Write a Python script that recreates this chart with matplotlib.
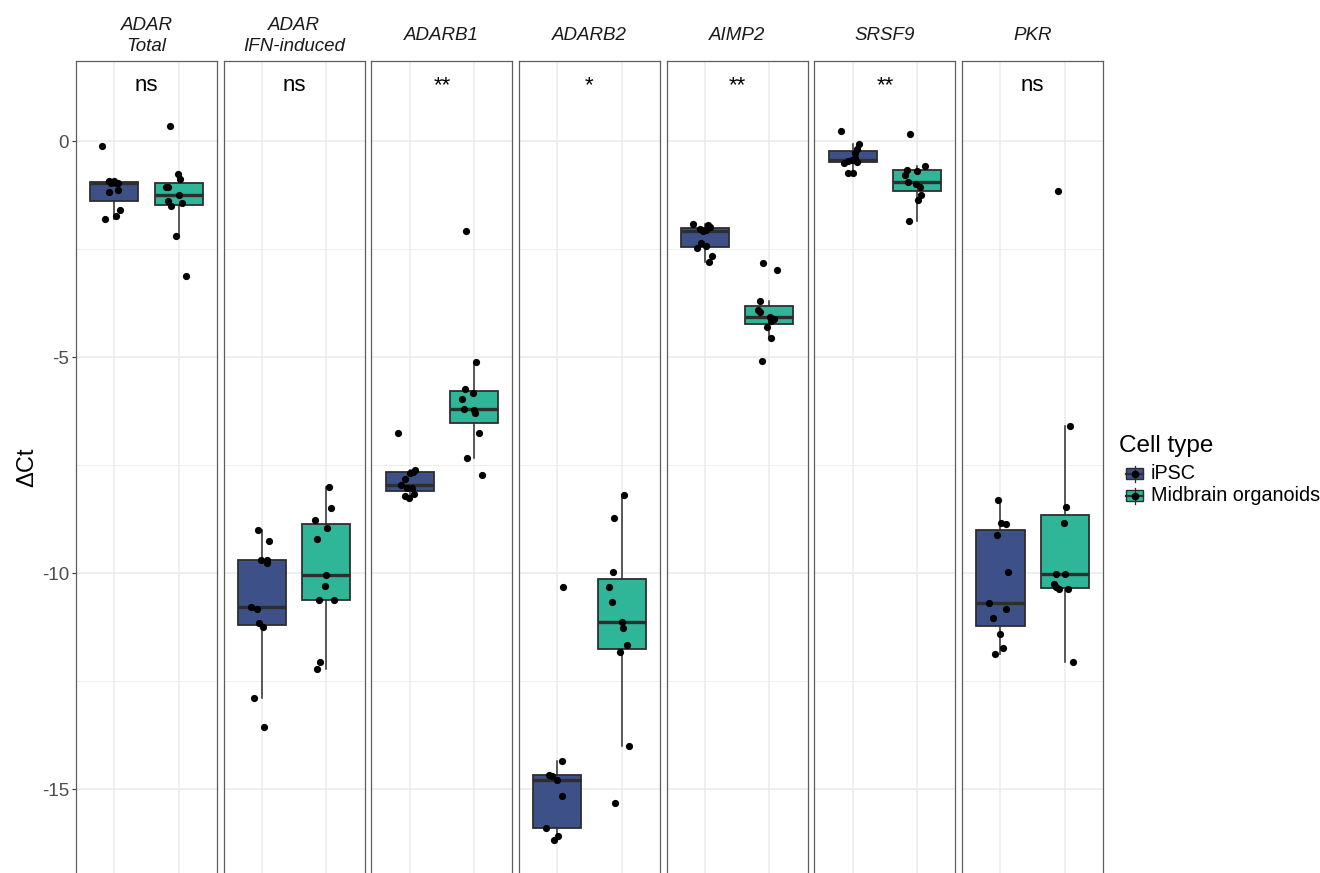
import matplotlib
matplotlib.use("Agg")
import matplotlib.pyplot as plt
from matplotlib.patches import Rectangle
from matplotlib.lines import Line2D

plt.rcParams["font.family"] = ["Liberation Sans", "DejaVu Sans"]

# ---- data -------------------------------------------------------------
genes = ["ADAR\nTotal", "ADAR\nIFN-induced", "ADARB1", "ADARB2", "AIMP2", "SRSF9", "PKR"]
signif = ["ns", "ns", "**", "*", "**", "**", "ns"]
cell_types = ["iPSC", "Midbrain organoids"]

ipsc_dct = [
    [-0.11, -0.93, -0.96, -0.93, -0.98, -0.96, -1.19, -1.13, -1.59, -1.74, -1.81],
    [-9.01, -9.25, -9.70, -9.70, -9.76, -10.79, -10.83, -11.15, -11.24, -12.89, -13.55],
    [-6.75, -7.62, -7.69, -7.65, -7.82, -7.96, -8.02, -8.04, -8.16, -8.22, -8.25],
    [-10.33, -14.35, -14.67, -14.70, -14.79, -15.16, -15.89, -16.09, -16.18],
    [-1.92, -1.95, -1.98, -2.04, -2.06, -2.08, -2.35, -2.42, -2.48, -2.67, -2.81],
    [0.24, -0.06, -0.19, -0.27, -0.40, -0.45, -0.46, -0.48, -0.51, -0.73, -0.75],
    [-8.30, -8.85, -8.87, -9.12, -9.97, -10.69, -10.83, -11.03, -11.40, -11.73, -11.88],
]
organoid_dct = [
    [0.35, -0.77, -0.89, -1.06, -1.06, -1.26, -1.39, -1.44, -1.51, -2.20, -3.13],
    [-8.01, -8.49, -8.77, -8.96, -9.21, -10.05, -10.29, -10.63, -10.63, -12.05, -12.22],
    [-2.08, -5.12, -5.73, -5.84, -5.96, -6.21, -6.23, -6.30, -6.75, -7.33, -7.72],
    [-8.19, -8.72, -9.97, -10.32, -10.66, -11.13, -11.28, -11.67, -11.82, -14.00, -15.32],
    [-2.82, -2.98, -3.70, -3.92, -3.96, -4.07, -4.12, -4.17, -4.31, -4.55, -5.09],
    [0.16, -0.58, -0.67, -0.69, -0.79, -0.95, -1.00, -1.06, -1.25, -1.37, -1.84],
    [-1.15, -6.60, -8.46, -8.84, -10.01, -10.03, -10.26, -10.33, -10.36, -10.36, -12.06],
]

# horizontal jitter of the individual points (in category units)
ipsc_jitter = [
    [-0.20, -0.09, -0.05, 0.00, 0.02, 0.06, -0.08, 0.05, 0.08, 0.02, -0.14],
    [-0.07, 0.10, -0.01, 0.07, 0.07, -0.18, -0.08, -0.05, 0.01, -0.13, 0.03],
    [-0.18, 0.08, 0.01, 0.05, -0.08, -0.13, -0.04, 0.03, 0.06, -0.07, -0.01],
    [0.09, 0.07, -0.13, -0.08, -0.01, 0.07, -0.18, 0.01, -0.05],
    [-0.19, 0.04, 0.07, -0.08, 0.02, -0.04, -0.07, 0.01, -0.13, 0.10, 0.06],
    [-0.19, 0.10, 0.07, 0.04, 0.03, -0.01, -0.08, 0.06, -0.14, -0.08, 0.01],
    [-0.04, 0.01, 0.08, -0.06, 0.11, -0.18, 0.08, -0.12, -0.01, 0.04, -0.08],
]
organoid_jitter = [
    [-0.13, -0.01, 0.03, -0.19, -0.16, 0.01, -0.17, 0.06, -0.12, -0.04, 0.11],
    [0.04, 0.08, -0.18, 0.02, -0.14, 0.00, -0.02, -0.12, 0.12, -0.10, -0.15],
    [-0.12, 0.04, -0.14, -0.02, -0.18, -0.15, 0.00, 0.02, 0.08, -0.10, 0.12],
    [0.04, -0.12, -0.14, -0.19, -0.15, 0.00, 0.02, 0.08, -0.02, 0.12, -0.10],
    [-0.10, 0.12, -0.15, -0.17, -0.15, 0.01, 0.07, 0.03, -0.03, 0.03, -0.12],
    [-0.11, 0.12, -0.16, 0.00, -0.19, -0.14, -0.02, 0.05, 0.07, 0.02, -0.12],
    [-0.11, 0.08, 0.03, -0.01, -0.13, 0.01, -0.17, -0.14, -0.09, 0.05, 0.13],
]

# ---- styling ----------------------------------------------------------
W, H = 1320, 873
fill_colors = ["#3D5188", "#2FB597"]
edge_col = "#2E2E2E"
grid_col = "#EBEBEB"
border_col = "#5E5E5E"

fig = plt.figure(figsize=(W / 100, H / 100), dpi=100)

panel_left0 = 76
panel_step = 147.67
panel_w = 141
panel_top = 61
y_top, y_bottom = 1.852, -16.94

for i, gene in enumerate(genes):
    left = panel_left0 + i * panel_step
    ax = fig.add_axes([left / W, 0, panel_w / W, (H - panel_top) / H])
    ax.set_xlim(0.4, 2.6)
    ax.set_ylim(y_bottom, y_top)
    ax.set_xticks([1, 2])
    ax.set_yticks([0, -5, -10, -15])
    ax.set_yticks([-2.5, -7.5, -12.5], minor=True)
    ax.grid(which="major", color=grid_col, lw=1.1, zorder=0)
    ax.grid(which="minor", axis="y", color=grid_col, lw=0.6, zorder=0)
    ax.set_axisbelow(True)
    for side in ["top", "left", "right"]:
        ax.spines[side].set_color(border_col)
        ax.spines[side].set_linewidth(0.9)
    ax.spines["bottom"].set_visible(False)
    ax.tick_params(axis="x", length=0, labelbottom=False)
    ax.tick_params(axis="y", which="minor", length=0)
    if i == 0:
        ax.set_yticklabels(["0", "-5", "-10", "-15"])
        ax.tick_params(axis="y", which="major", length=3, width=0.8,
                       color="#333333", labelcolor="#4D4D4D", labelsize=13.5, pad=2)
    else:
        ax.tick_params(axis="y", which="major", length=0, labelleft=False)

    groups = [ipsc_dct[i], organoid_dct[i]]
    bp = ax.boxplot(groups, positions=[1, 2], widths=0.75, whis=1.5,
                    showfliers=False, showcaps=False, patch_artist=True,
                    manage_ticks=False, zorder=2,
                    boxprops=dict(edgecolor=edge_col, linewidth=1.3),
                    whiskerprops=dict(color=edge_col, linewidth=1.1),
                    medianprops=dict(color=edge_col, linewidth=2.4))
    for patch, fc in zip(bp["boxes"], fill_colors):
        patch.set_facecolor(fc)
    for pos, vals, jit in zip([1, 2], groups, [ipsc_jitter[i], organoid_jitter[i]]):
        ax.scatter([pos + j for j in jit], vals, s=27, color="black",
                   linewidths=0, zorder=3)

    ax.text(1.5, 1.16, signif[i], ha="center", va="baseline", fontsize=16,
            color="black")

    fig.text((left + panel_w / 2) / W, 1 - 36 / H, gene, ha="center",
             va="center", style="italic", fontsize=13.5, linespacing=1.3,
             color="#1A1A1A")

# overlay for axis title and legend (pixel coordinates)
ov = fig.add_axes([0, 0, 1, 1], zorder=10)
ov.set_xlim(0, W)
ov.set_ylim(H, 0)
ov.axis("off")
ov.text(27, 467, "\u0394Ct", rotation=90, ha="center", va="center", fontsize=17)

ov.text(1119, 446, "Cell type", ha="left", va="center", fontsize=17.5)
for k, (lab, fc) in enumerate(zip(cell_types, fill_colors)):
    cy = 473.5 + k * 22
    ov.add_line(Line2D([1134.5, 1134.5], [cy - 8, cy + 8], color=edge_col, lw=0.9))
    ov.add_patch(Rectangle((1126, cy - 5.5), 17, 11, facecolor=fc,
                           edgecolor=edge_col, lw=1.0))
    ov.add_line(Line2D([1126, 1143], [cy, cy], color=edge_col, lw=1.6))
    ov.plot([1134.5], [cy], "o", color="black", markersize=4.5)
    ov.text(1151, cy, lab, ha="left", va="center", fontsize=14.2)

fig.savefig("out.png", dpi=100)
